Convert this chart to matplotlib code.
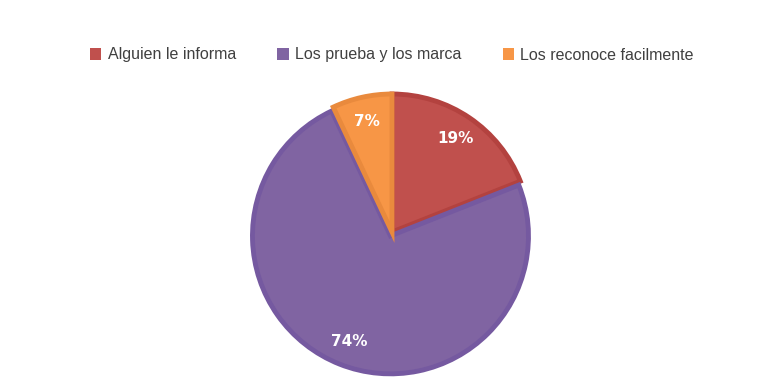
import matplotlib.pyplot as plt
from matplotlib.patches import Patch

labels = ["Alguien le informa", "Los prueba y los marca", "Los reconoce facilmente"]
values = [19, 74, 7]
colors = ["#C0504D", "#8064A2", "#F79646"]
edge_colors = ["#B3423F", "#7559A0", "#E98A3D"]
explode = [0, 0.03, 0]

W, H = 766, 392
fig = plt.figure(figsize=(W / 100, H / 100), dpi=100)

# axes placed so that radius 1 ~ 138 px, centre at (392, 232) from top-left
r_px = 138
half = 1.4 * r_px
cx, cy = 392, H - 232
ax = fig.add_axes([(cx - half) / W, (cy - half) / H, 2 * half / W, 2 * half / H])

wedges, texts, autotexts = ax.pie(
    values, colors=colors, startangle=90, counterclock=False, explode=explode,
    autopct="%d%%", pctdistance=0.82,
    wedgeprops=dict(linewidth=3.5, joinstyle="miter"),
    textprops=dict(color="white", fontsize=11, fontweight="bold", family="DejaVu Sans"),
)
for w, ec in zip(wedges, edge_colors):
    w.set_edgecolor(ec)
ax.set_xlim(-1.4, 1.4)
ax.set_ylim(-1.4, 1.4)
ax.set_aspect("equal")
ax.axis("off")

handles = [Patch(facecolor=c, edgecolor="none") for c in colors]
fig.legend(handles, labels, loc="center", bbox_to_anchor=(392 / W, 1 - 55 / H),
           ncol=3, frameon=False, handlelength=0.7, handleheight=0.7, handletextpad=0.4,
           columnspacing=2.6, prop=dict(family="Liberation Sans", size=11.5),
           labelcolor="#404040")

fig.savefig("out.png", dpi=100)
